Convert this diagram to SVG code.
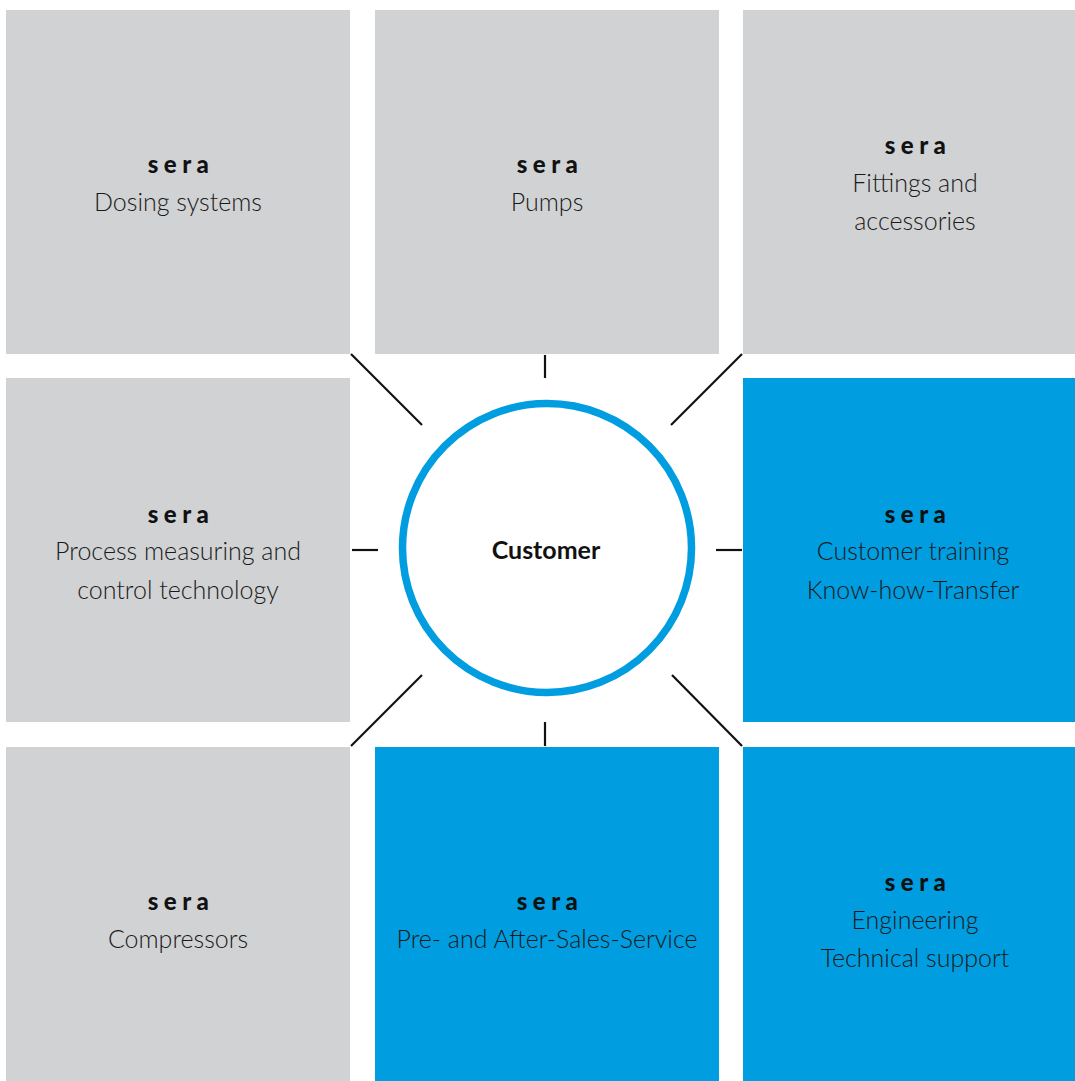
<svg xmlns="http://www.w3.org/2000/svg" width="1075" height="1081" viewBox="0 0 1075 1081">
<style>
.g{fill:#d1d2d4}
.b{fill:#009de0}
.s{font-family:Lato,"Liberation Sans",sans-serif;font-weight:900;font-size:24px;letter-spacing:5.5px;fill:#111;text-anchor:middle}
.t{font-family:Lato,"Liberation Sans",sans-serif;font-weight:300;font-size:25px;fill:#1a1a1a;text-anchor:middle}
.c{font-family:Lato,"Liberation Sans",sans-serif;font-weight:700;font-size:25px;fill:#111;text-anchor:middle}
.l{stroke:#111;stroke-width:2.2;fill:none}
</style>
<rect width="1075" height="1081" fill="#fff"/>
<g id="connectors">
<line class="l" x1="351" y1="354" x2="422" y2="425"/>
<line class="l" x1="545" y1="355" x2="545" y2="378"/>
<line class="l" x1="742" y1="354" x2="671" y2="425"/>
<line class="l" x1="352" y1="550" x2="378" y2="550"/>
<line class="l" x1="716" y1="550" x2="742" y2="550"/>
<line class="l" x1="422" y1="675" x2="351" y2="746"/>
<line class="l" x1="545" y1="722" x2="545" y2="746"/>
<line class="l" x1="672" y1="675" x2="742" y2="746"/>
</g>
<g id="n-dosing"><rect class="g" x="6" y="10" width="344" height="344"/><text class="s" x="181" y="173">sera</text><text class="t" x="178" y="211">Dosing systems</text></g>
<g id="n-pumps"><rect class="g" x="375" y="10" width="344" height="344"/><text class="s" x="550" y="173">sera</text><text class="t" x="547" y="211">Pumps</text></g>
<g id="n-fittings"><rect class="g" x="743" y="10" width="332" height="344"/><text class="s" x="918" y="154">sera</text><text class="t" x="915" y="192">Fittings and</text><text class="t" x="915" y="230">accessories</text></g>
<g id="n-process"><rect class="g" x="6" y="378" width="344" height="344"/><text class="s" x="181" y="523">sera</text><text class="t" x="178" y="560">Process measuring and</text><text class="t" x="178" y="599">control technology</text></g>
<g id="n-customer"><circle cx="547" cy="548" r="144.5" fill="#fff" stroke="#009de0" stroke-width="7.5"/><text class="c" x="546" y="559">Customer</text></g>
<g id="n-training"><rect class="b" x="743" y="378" width="332" height="344"/><text class="s" x="918" y="523">sera</text><text class="t" x="913" y="560">Customer training</text><text class="t" x="913" y="599">Know-how-Transfer</text></g>
<g id="n-compressors"><rect class="g" x="6" y="747" width="344" height="334"/><text class="s" x="181" y="910">sera</text><text class="t" x="178" y="948">Compressors</text></g>
<g id="n-service"><rect class="b" x="375" y="747" width="344" height="334"/><text class="s" x="550" y="910">sera</text><text class="t" x="547" y="948">Pre- and After-Sales-Service</text></g>
<g id="n-engineering"><rect class="b" x="743" y="747" width="332" height="334"/><text class="s" x="918" y="891">sera</text><text class="t" x="915" y="929">Engineering</text><text class="t" x="915" y="967">Technical support</text></g>
</svg>
